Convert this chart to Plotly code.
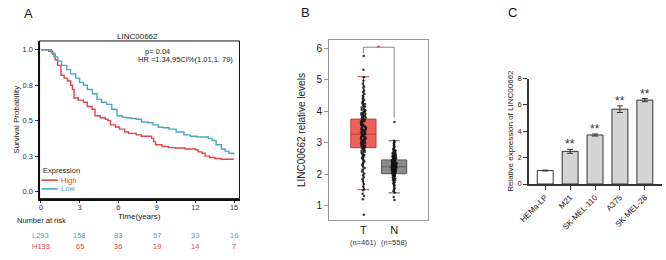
import plotly.graph_objects as go

W, H = 666, 260
def px(x): return x / W
def py(y): return 1 - y / H

FONT = "Arial, Liberation Sans, sans-serif"
RED = "#e0454a"
CYAN = "#4aa8c0"

# ---------------- Panel A: Kaplan-Meier ----------------
low_t = [0, 0.8, 1.0, 1.3, 1.6, 2.0, 2.3, 2.7, 3.0, 3.3, 3.6, 4.0, 4.35, 4.7, 5.1, 5.5, 5.9, 6.3, 6.6,
         7.0, 7.4, 7.8, 8.3, 8.7, 9.1, 9.5, 9.95, 10.5, 11.1, 11.6, 12.1, 12.5, 13.0, 13.3, 13.6, 14.0,
         14.3, 14.6, 14.95]
low_s = [1.0, 0.98, 0.95, 0.92, 0.89, 0.86, 0.83, 0.80, 0.77, 0.75, 0.72, 0.69, 0.65, 0.63, 0.615, 0.58,
         0.535, 0.525, 0.52, 0.515, 0.51, 0.49, 0.485, 0.47, 0.453, 0.45, 0.44, 0.42, 0.40, 0.39, 0.385,
         0.385, 0.375, 0.36, 0.33, 0.30, 0.285, 0.27, 0.26]
high_t = [0, 0.6, 0.9, 1.1, 1.3, 1.55, 1.8, 2.06, 2.3, 2.44, 2.57, 2.9, 3.3, 3.6, 3.97, 4.2, 4.6, 5.0,
          5.2, 5.4, 5.8, 6.1, 6.5, 6.8, 7.4, 7.8, 8.4, 8.6, 8.75, 8.9, 9.4, 9.9, 10.45, 11.2, 12.0, 12.2,
          12.5, 12.75, 13.1, 13.5, 14.0, 14.95]
high_s = [1.0, 0.99, 0.97, 0.93, 0.89, 0.82, 0.80, 0.78, 0.75, 0.72, 0.66, 0.645, 0.63, 0.60, 0.58, 0.535,
          0.52, 0.51, 0.50, 0.47, 0.455, 0.44, 0.42, 0.41, 0.40, 0.39, 0.39, 0.375, 0.35, 0.33, 0.318,
          0.31, 0.307, 0.30, 0.295, 0.28, 0.27, 0.25, 0.24, 0.233, 0.228, 0.226]
surv_tickvals = [0, 0.25, 0.5, 0.75, 1.0]
surv_ticktext = ["0.0", "0.3", "0.5", "0.8", "1.0"]
time_ticks = [0, 3, 6, 9, 12, 15]
risk_low = [293, 158, 83, 57, 33, 16]
risk_high = [133, 65, 36, 19, 14, 7]

# ---------------- Panel B: box plot ----------------
box_groups = ["T", "N"]
box_n = ["(n=461)", "(n=558)"]
box_q1 = [2.84, 2.01]
box_median = [3.27, 2.23]
box_q3 = [3.75, 2.45]
box_low = [1.50, 1.40]
box_high = [5.10, 3.06]
tumor_pts = [5.76, 5.32, 5.08, 4.97, 4.88, 4.80, 4.74, 4.66, 4.61, 4.55, 4.49, 4.46, 4.41, 4.37, 4.33,
             4.30, 4.26, 4.23, 4.21, 4.17, 4.14, 4.12, 4.08, 4.05, 4.03, 4.01, 3.98, 3.96, 3.94, 3.92,
             3.90, 3.88, 3.86, 3.85, 3.82, 3.80, 3.79, 3.77, 3.75, 3.73, 3.72, 3.70, 3.68, 3.66, 3.65,
             3.63, 3.61, 3.60, 3.58, 3.56, 3.55, 3.53, 3.51, 3.50, 3.48, 3.46, 3.45, 3.43, 3.41, 3.40,
             3.38, 3.36, 3.35, 3.33, 3.31, 3.30, 3.28, 3.27, 3.25, 3.23, 3.22, 3.20, 3.18, 3.17, 3.15,
             3.13, 3.12, 3.10, 3.08, 3.07, 3.05, 3.03, 3.02, 3.00, 2.98, 2.97, 2.95, 2.93, 2.91, 2.90,
             2.88, 2.86, 2.84, 2.82, 2.80, 2.78, 2.75, 2.73, 2.70, 2.68, 2.65, 2.62, 2.60, 2.57, 2.54,
             2.51, 2.48, 2.44, 2.41, 2.37, 2.33, 2.29, 2.24, 2.19, 2.14, 2.08, 2.02, 1.96, 1.90, 1.83,
             1.76, 1.68, 1.60, 1.53, 1.48, 1.37, 1.30, 1.20, 0.70]
normal_pts = [3.66, 3.06, 3.02, 2.98, 2.94, 2.90, 2.87, 2.84, 2.81, 2.78, 2.76, 2.74, 2.72, 2.70, 2.68,
              2.66, 2.65, 2.63, 2.62, 2.60, 2.59, 2.58, 2.57, 2.55, 2.54, 2.53, 2.52, 2.51, 2.50, 2.49,
              2.48, 2.47, 2.46, 2.45, 2.45, 2.44, 2.43, 2.42, 2.41, 2.41, 2.40, 2.39, 2.38, 2.38, 2.37,
              2.36, 2.35, 2.35, 2.34, 2.33, 2.32, 2.32, 2.31, 2.30, 2.30, 2.29, 2.28, 2.28, 2.27, 2.26,
              2.26, 2.25, 2.24, 2.24, 2.23, 2.23, 2.22, 2.21, 2.21, 2.20, 2.20, 2.19, 2.18, 2.18, 2.17,
              2.16, 2.16, 2.15, 2.14, 2.14, 2.13, 2.12, 2.12, 2.11, 2.10, 2.10, 2.09, 2.08, 2.07, 2.07,
              2.06, 2.05, 2.04, 2.03, 2.02, 2.01, 2.00, 1.99, 1.98, 1.97, 1.96, 1.94, 1.93, 1.91, 1.90,
              1.88, 1.86, 1.84, 1.82, 1.80, 1.77, 1.74, 1.71, 1.68, 1.64, 1.60, 1.55, 1.50, 1.45, 1.40,
              1.27, 1.17]

# ---------------- Panel C: bar chart ----------------
cell_lines = ["HEMa-LP", "M21", "SK-MEL-110", "A375", "SK-MEL-28"]
rel_expr = [1.02, 2.48, 3.72, 5.68, 6.37]
rel_err = [0.03, 0.15, 0.08, 0.25, 0.12]
bar_colors = ["#ffffff", "#d4d4d4", "#d4d4d4", "#d4d4d4", "#d4d4d4"]
sig_marks = ["", "**", "**", "**", "**"]

fig = go.Figure()

# A traces
fig.add_trace(go.Scatter(x=high_t, y=high_s, mode="lines", xaxis="x", yaxis="y",
                         line=dict(color=RED, width=1.4, shape="hv"), showlegend=False))
fig.add_trace(go.Scatter(x=low_t, y=low_s, mode="lines", xaxis="x", yaxis="y",
                         line=dict(color=CYAN, width=1.4, shape="hv"), showlegend=False))

# B traces
box_fill = ["#f0605a", "#8c8c8c"]
box_line = ["#b8403c", "#5a5a5a"]
for i in range(2):
    fig.add_trace(go.Box(x=[i], q1=[box_q1[i]], median=[box_median[i]], q3=[box_q3[i]],
                         lowerfence=[box_low[i]], upperfence=[box_high[i]], boxpoints=False,
                         width=0.82, whiskerwidth=0.45, fillcolor=box_fill[i],
                         line=dict(color=box_line[i], width=1), xaxis="x2", yaxis="y2",
                         showlegend=False, hoverinfo="skip"))
for i, pts in enumerate([tumor_pts, normal_pts]):
    fig.add_trace(go.Box(y=pts, x0=i, boxpoints="all", jitter=0.2, pointpos=0, width=0.82,
                         fillcolor="rgba(0,0,0,0)", line=dict(color="rgba(0,0,0,0)", width=0),
                         marker=dict(size=2.5, color="rgba(20,20,20,0.85)"),
                         xaxis="x2", yaxis="y2", showlegend=False))

# C traces
fig.add_trace(go.Bar(x=cell_lines, y=rel_expr, width=0.64, xaxis="x3", yaxis="y3",
                     marker=dict(color=bar_colors, line=dict(color="#333333", width=1)),
                     error_y=dict(type="data", array=rel_err, color="#333333", thickness=1, width=3),
                     showlegend=False))

ann = []
for letter, x, y in [("A", 19, 10), ("B", 300, 9), ("C", 510, 9)]:
    ann.append(dict(text=letter, x=px(x), y=py(y), xref="paper", yref="paper", showarrow=False,
                    font=dict(size=13, color="#111", family=FONT), xanchor="center", yanchor="middle"))
ann.append(dict(text="LINC00662", x=px(129), y=py(33), xref="paper", yref="paper", showarrow=False,
                font=dict(size=8, color="#222", family=FONT), xanchor="center", yanchor="middle"))
ann.append(dict(text="p= 0.04", x=px(135), y=py(49), xref="paper", yref="paper", showarrow=False,
                font=dict(size=7.5, color="#222", family=FONT), xanchor="left", yanchor="middle"))
ann.append(dict(text="HR =1.34,95CI%(1.01,1. 79)", x=px(228), y=py(57), xref="paper", yref="paper",
                showarrow=False, font=dict(size=7.5, color="#222", family=FONT), xanchor="right",
                yanchor="middle"))
ann.append(dict(text="Survival Probability", x=px(7), y=py(119), xref="paper", yref="paper",
                showarrow=False, textangle=-90, font=dict(size=8, color="#222", family=FONT),
                xanchor="center", yanchor="middle"))
ann.append(dict(text="Time(years)", x=px(131), y=py(218), xref="paper", yref="paper", showarrow=False,
                font=dict(size=8, color="#222", family=FONT), xanchor="center", yanchor="middle"))
ann.append(dict(text="Expression", x=px(31), y=py(171), xref="paper", yref="paper", showarrow=False,
                font=dict(size=7.5, color="#222", family=FONT), xanchor="left", yanchor="middle"))
ann.append(dict(text="High", x=px(50), y=py(181), xref="paper", yref="paper", showarrow=False,
                font=dict(size=7.5, color=RED, family=FONT), xanchor="left", yanchor="middle"))
ann.append(dict(text="Low", x=px(50), y=py(190), xref="paper", yref="paper", showarrow=False,
                font=dict(size=7.5, color=CYAN, family=FONT), xanchor="left", yanchor="middle"))
ann.append(dict(text="Number at risk", x=px(5), y=py(223), xref="paper", yref="paper", showarrow=False,
                font=dict(size=7.5, color="#222", family=FONT), xanchor="left", yanchor="middle"))
for j, t in enumerate(time_ticks):
    lt = ("L" + str(risk_low[j])) if j == 0 else str(risk_low[j])
    ht = ("H" + str(risk_high[j])) if j == 0 else str(risk_high[j])
    ann.append(dict(text=lt, x=t, y=py(238), xref="x", yref="paper", showarrow=False,
                    font=dict(size=7.5, color=CYAN, family=FONT), xanchor="center", yanchor="middle"))
    ann.append(dict(text=ht, x=t, y=py(249.5), xref="x", yref="paper", showarrow=False,
                    font=dict(size=7.5, color=RED, family=FONT), xanchor="center", yanchor="middle"))

ann.append(dict(text="LINC00662 relative levels", x=px(296), y=py(130), xref="paper", yref="paper",
                showarrow=False, textangle=-90, font=dict(size=10, color="#222", family=FONT),
                xanchor="center", yanchor="middle"))
for i in range(2):
    ann.append(dict(text=box_n[i], x=i, y=py(245), xref="x2", yref="paper", showarrow=False,
                    font=dict(size=7.5, color="#333", family=FONT), xanchor="center", yanchor="middle"))
ann.append(dict(text="*", x=0.5, y=6.04, xref="x2", yref="y2", showarrow=False,
                font=dict(size=9, color="#e03030", family=FONT), xanchor="center", yanchor="middle",
                yshift=-1))

ann.append(dict(text="Relative expression of LINC00662", x=px(508), y=py(130), xref="paper",
                yref="paper", showarrow=False, textangle=-90,
                font=dict(size=8, color="#222", family=FONT), xanchor="center", yanchor="middle"))
for i, c in enumerate(cell_lines):
    if sig_marks[i]:
        ann.append(dict(text=sig_marks[i], x=c, y=rel_expr[i] + rel_err[i], xref="x3", yref="y3",
                        showarrow=False, font=dict(size=12, color="#333", family=FONT),
                        xanchor="center", yanchor="bottom", yshift=-4))

shapes = [
    dict(type="rect", xref="paper", yref="paper", x0=px(30), x1=px(233), y0=py(200), y1=py(38),
         line=dict(color="#111", width=1)),
    dict(type="line", xref="paper", yref="paper", x0=px(32), x1=px(48.5), y0=py(181), y1=py(181),
         line=dict(color=RED, width=1.6)),
    dict(type="line", xref="paper", yref="paper", x0=px(32), x1=px(48.5), y0=py(190), y1=py(190),
         line=dict(color=CYAN, width=1.6)),
    dict(type="line", xref="x2", yref="y2", x0=0, x1=0, y0=5.85, y1=6.04,
         line=dict(color="#888", width=1)),
    dict(type="line", xref="x2", yref="y2", x0=0, x1=1, y0=6.04, y1=6.04,
         line=dict(color="#888", width=1)),
    dict(type="line", xref="x2", yref="y2", x0=1, x1=1, y0=3.80, y1=6.04,
         line=dict(color="#888", width=1)),
]

tickfont_a = dict(size=7.5, color="#333", family=FONT)
fig.update_layout(
    width=W, height=H, autosize=False,
    margin=dict(l=0, r=0, t=0, b=0),
    paper_bgcolor="white", plot_bgcolor="white",
    boxmode="overlay", showlegend=False,
    font=dict(family=FONT),
    annotations=ann, shapes=shapes,
    xaxis=dict(domain=[px(30), px(233)], range=[-0.11, 15.42], tickvals=time_ticks, anchor="y",
               showline=True, linewidth=2, linecolor="#111", ticks="outside", ticklen=2,
               tickcolor="#333", tickfont=tickfont_a, showgrid=False, zeroline=False,
               ticklabelstandoff=-2),
    yaxis=dict(domain=[py(200), py(38)], range=[-0.05, 1.062], tickvals=surv_tickvals,
               ticktext=surv_ticktext, anchor="x", showline=True, linewidth=2, linecolor="#111",
               ticks="outside", ticklen=3, tickcolor="#333", tickfont=tickfont_a, showgrid=False,
               zeroline=False),
    xaxis2=dict(domain=[px(324), px(424)], range=[-1.115, 2.09], tickvals=[0, 1], ticktext=box_groups,
                anchor="y2", showline=True, mirror=True, linewidth=1, linecolor="#999",
                ticks="", tickfont=dict(size=11, color="#222", family=FONT), showgrid=False,
                zeroline=False),
    yaxis2=dict(domain=[py(222), py(37)], range=[0.535, 6.27], tickvals=[1, 2, 3, 4, 5, 6],
                anchor="x2", showline=True, mirror=True, linewidth=1, linecolor="#999",
                ticks="outside", ticklen=4, tickcolor="#999",
                tickfont=dict(size=10, color="#222", family=FONT), showgrid=False, zeroline=False),
    xaxis3=dict(domain=[px(526.7), px(661.7)], range=[-0.66, 4.68], anchor="y3", type="category",
                showline=True, linewidth=1.5, linecolor="#333", ticks="outside", ticklen=4,
                tickcolor="#333", tickangle=-45, tickfont=dict(size=8, color="#222", family=FONT),
                showgrid=False, zeroline=False),
    yaxis3=dict(domain=[py(185), py(76.7)], range=[0, 8], tickvals=[0, 2, 4, 6, 8], anchor="x3",
                showline=True, linewidth=1.5, linecolor="#333", ticks="outside", ticklen=4,
                tickcolor="#333", tickfont=dict(size=7, color="#222", family=FONT), showgrid=False,
                zeroline=False),
)

fig.write_html("out.html", config={"displayModeBar": False},
               post_script="document.body.style.margin='0px';")
